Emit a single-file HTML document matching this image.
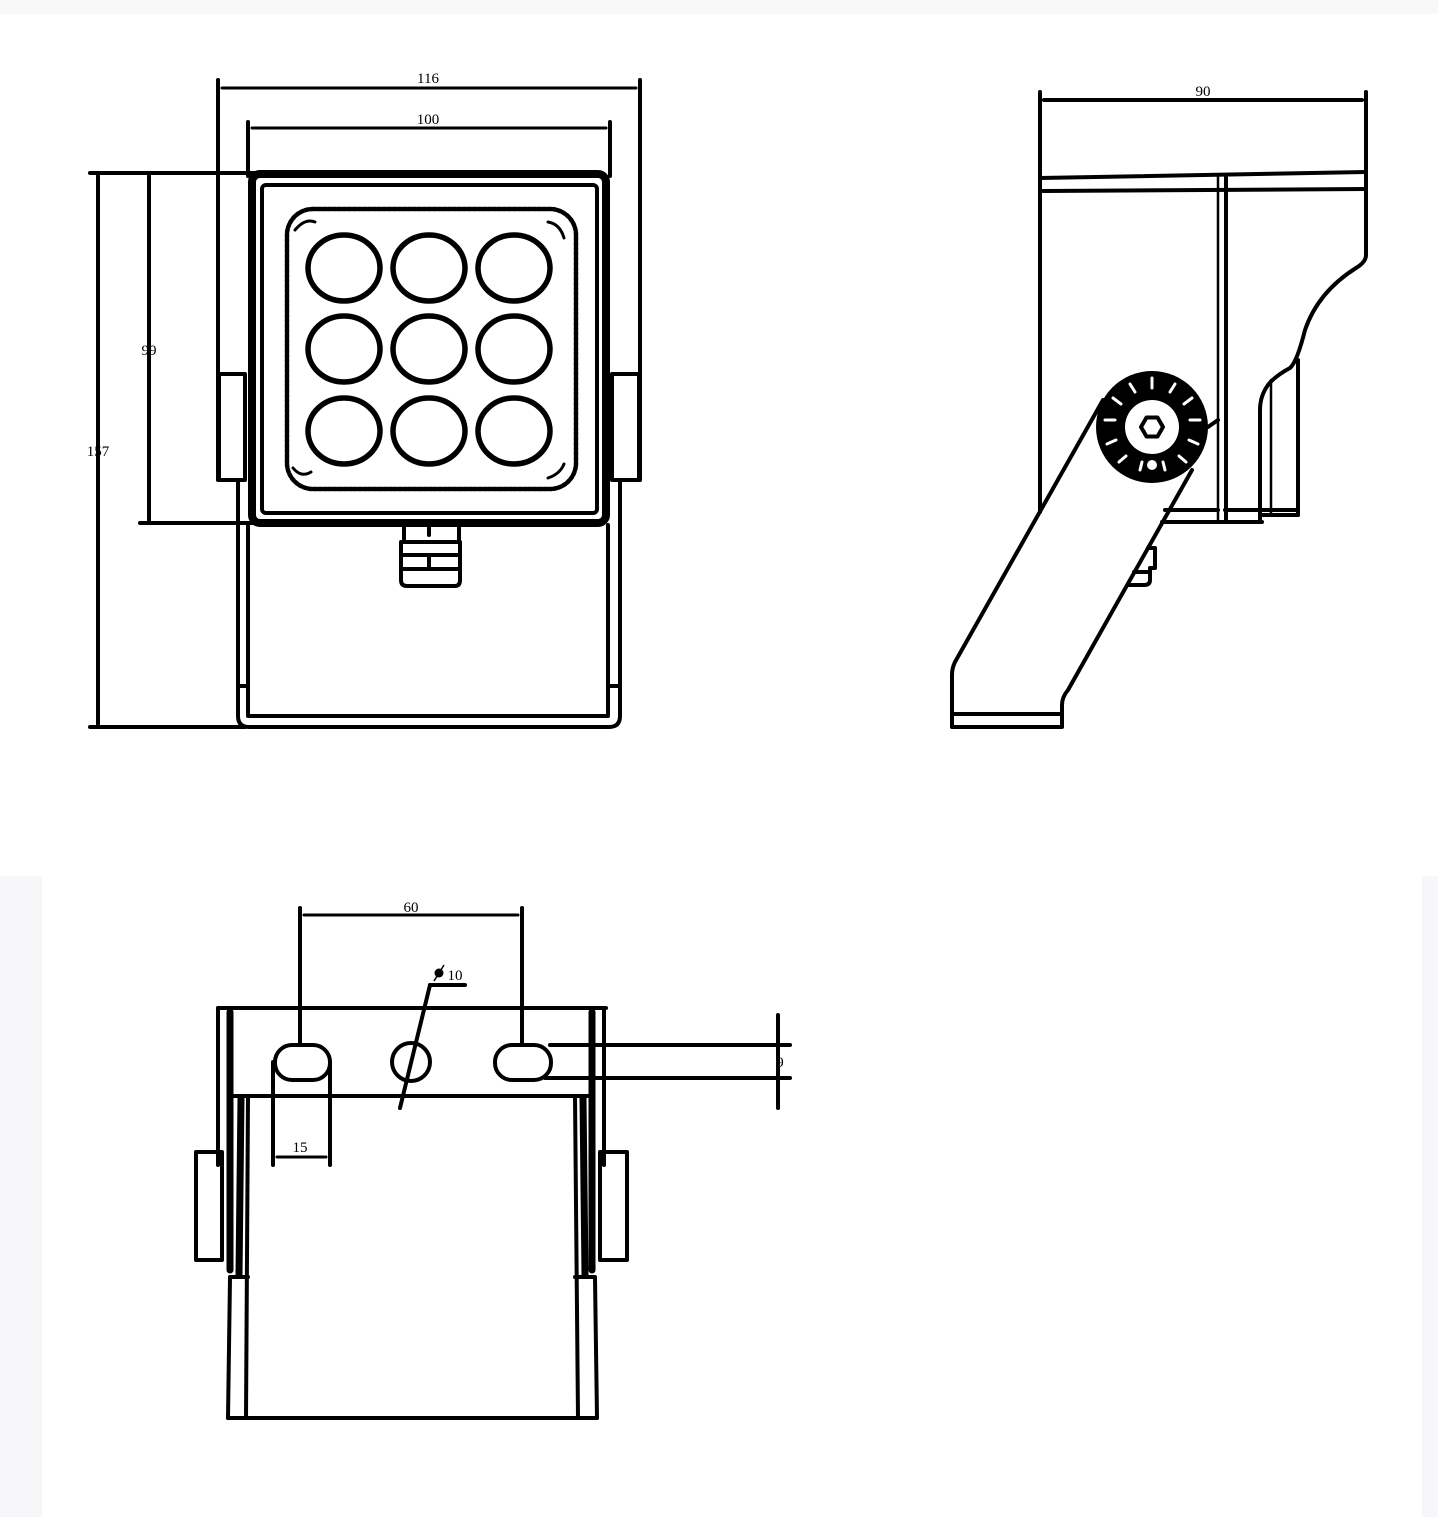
<!DOCTYPE html>
<html><head><meta charset="utf-8"><style>
html,body{margin:0;padding:0;background:#fff;}
svg{display:block;}
text{font-family:"Liberation Serif",serif;font-size:15px;fill:#000;}
</style></head><body>
<svg width="1438" height="1517" viewBox="0 0 1438 1517" xmlns="http://www.w3.org/2000/svg">
<rect x="0" y="0" width="1438" height="1517" fill="#fff"/>
<rect x="0" y="0" width="1438" height="14" fill="#f8f8f8"/>
<rect x="0" y="876" width="42" height="641" fill="#f7f7f9"/>
<rect x="1422" y="876" width="16" height="641" fill="#f7f7f9"/>

<g fill="none" stroke="#000" stroke-linecap="round" stroke-linejoin="round">
<g stroke-width="4">
<line x1="218" y1="80" x2="218" y2="480"/>
<line x1="640" y1="80" x2="640" y2="480"/>
<line x1="248" y1="122" x2="248" y2="176"/>
<line x1="610" y1="122" x2="610" y2="176"/>
<line x1="90" y1="173" x2="255" y2="173"/>
<line x1="90" y1="727" x2="245" y2="727"/>
<line x1="140" y1="523" x2="255" y2="523"/>
<line x1="98" y1="176" x2="98" y2="724"/>
<line x1="149" y1="176" x2="149" y2="520"/>
</g>
<g stroke-width="3">
<line x1="222" y1="88" x2="636" y2="88"/>
<line x1="252" y1="128" x2="606" y2="128"/>
</g>
<g stroke-width="4">
<rect x="219" y="374" width="26" height="106"/>
<rect x="612" y="374" width="27" height="106"/>
<path d="M238 480 V716 Q238 727 249 727 H609 Q620 727 620 716 V480"/>
<path d="M248 525 V716 H608 V525"/>
<line x1="238" y1="686" x2="248" y2="686"/>
<line x1="610" y1="686" x2="620" y2="686"/>
</g>
<rect x="252" y="174" width="354" height="349" rx="8" stroke-width="8"/>
<rect x="262" y="185" width="335" height="328" rx="4" stroke-width="4"/>
<rect x="287" y="209" width="289" height="280" rx="26" stroke-width="4.5" stroke-dasharray="3 2"/>
<g stroke-width="3">
<path d="M295 230 q10 -12 20 -8 M548 222 q12 2 16 16 M293 468 q8 10 18 4 M548 478 q12 -4 16 -14"/>
</g>
<g stroke-width="5.5">
<ellipse cx="344" cy="268" rx="36" ry="33"/>
<ellipse cx="429" cy="268" rx="36" ry="33"/>
<ellipse cx="514" cy="268" rx="36" ry="33"/>
<ellipse cx="344" cy="349" rx="36" ry="33"/>
<ellipse cx="429" cy="349" rx="36" ry="33"/>
<ellipse cx="514" cy="349" rx="36" ry="33"/>
<ellipse cx="344" cy="431" rx="36" ry="33"/>
<ellipse cx="429" cy="431" rx="36" ry="33"/>
<ellipse cx="514" cy="431" rx="36" ry="33"/>
</g>
<g stroke-width="4">
<path d="M404 526 V542 H459 V526"/>
<path d="M401 542 V580 Q401 586 407 586 H455 Q460 586 460 580 V542"/>
<line x1="401" y1="555" x2="460" y2="555"/>
<line x1="401" y1="569" x2="460" y2="569"/>
<line x1="429" y1="555" x2="429" y2="569"/>
<line x1="429" y1="526" x2="429" y2="535"/>
</g>

<!-- SIDE VIEW -->
<g stroke-width="4">
<line x1="1040" y1="92" x2="1040" y2="512"/>
<line x1="1366" y1="92" x2="1366" y2="176"/>
<line x1="1044" y1="100" x2="1362" y2="100"/>
<line x1="1040" y1="178" x2="1366" y2="172"/>
<line x1="1043" y1="191" x2="1366" y2="189"/>
<line x1="1226" y1="176" x2="1226" y2="522"/>
<path d="M1366 172 V255 Q1366 262 1356 268 Q1318 292 1305 330 Q1297 362 1290 368 Q1275 376 1268 385 Q1260 396 1260 410 V522"/>
<line x1="1298" y1="360" x2="1298" y2="515"/>
<line x1="1225" y1="510" x2="1298" y2="510"/>
<line x1="1165" y1="510" x2="1218" y2="510"/>
<line x1="1162" y1="522" x2="1262" y2="522"/>
<line x1="1262" y1="515" x2="1298" y2="515"/>
<path d="M1103 400 L955 662 Q952 668 952 675 V727 H1062 V705 Q1062 697 1068 690 L1192 470"/>
<line x1="954" y1="714" x2="1062" y2="714"/>
<path d="M1148 548 H1155 V568 H1150 V580 Q1150 585 1144 585 H1128"/>
<line x1="1134" y1="572" x2="1150" y2="572"/>
<line x1="1208" y1="427" x2="1218" y2="420"/>
</g>
<line x1="1218" y1="176" x2="1218" y2="520" stroke-width="2.5"/>
<line x1="1271" y1="380" x2="1271" y2="515" stroke-width="2.5"/>
<circle cx="1152" cy="427" r="56" fill="#000" stroke="none"/>
<g stroke="#fff" stroke-width="3">
<path d="M1152 378 v10 M1175 384 l-5 8 M1192 398 l-8 6 M1200 420 h-10 M1198 444 l-9 -4 M1186 462 l-7 -6 M1130 384 l5 8 M1113 398 l8 6 M1105 420 h10 M1107 444 l9 -4 M1119 462 l7 -6 M1140 470 l2 -8 M1165 470 l-2 -8"/>
</g>
<circle cx="1152" cy="427" r="27" fill="#fff" stroke="none"/>
<polygon points="1163,427 1157.5,436.5 1146.5,436.5 1141,427 1146.5,417.5 1157.5,417.5" stroke-width="4"/>
<circle cx="1152" cy="465" r="5" fill="#fff" stroke="none"/>

<!-- BOTTOM VIEW -->
<g stroke-width="4">
<line x1="300" y1="908" x2="300" y2="1045"/>
<line x1="522" y1="908" x2="522" y2="1045"/>
<line x1="430" y1="985" x2="465" y2="985"/>
<line x1="430" y1="985" x2="400" y2="1108"/>
<line x1="218" y1="1008" x2="606" y2="1008"/>
<line x1="233" y1="1096" x2="590" y2="1096"/>
<rect x="275" y="1045" width="55" height="35" rx="17"/>
<rect x="495" y="1045" width="56" height="35" rx="17"/>
<circle cx="411" cy="1062" r="19"/>
<line x1="273" y1="1062" x2="273" y2="1165"/>
<line x1="330" y1="1062" x2="330" y2="1165"/>
<line x1="550" y1="1045" x2="790" y2="1045"/>
<line x1="545" y1="1078" x2="790" y2="1078"/>
<line x1="778" y1="1015" x2="778" y2="1108"/>
<line x1="218" y1="1008" x2="218" y2="1165"/>
<line x1="604" y1="1008" x2="604" y2="1165"/>
<rect x="196" y="1152" width="26" height="108"/>
<rect x="600" y="1152" width="27" height="108"/>
<line x1="248" y1="1096" x2="246" y2="1418"/>
<line x1="575" y1="1096" x2="578" y2="1418"/>
<line x1="230" y1="1278" x2="228" y2="1418"/>
<line x1="595" y1="1278" x2="597" y2="1418"/>
<line x1="230" y1="1277" x2="248" y2="1277"/>
<line x1="575" y1="1277" x2="595" y2="1277"/>
<line x1="228" y1="1418" x2="597" y2="1418"/>
</g>
<g stroke-width="3">
<line x1="304" y1="915" x2="518" y2="915"/>
<line x1="277" y1="1157" x2="326" y2="1157"/>
</g>
<g stroke-width="7">
<line x1="230" y1="1012" x2="230" y2="1270"/>
<line x1="592" y1="1012" x2="592" y2="1270"/>
<line x1="241" y1="1098" x2="239" y2="1275"/>
<line x1="583" y1="1098" x2="585" y2="1275"/>
</g>
</g>
<circle cx="439" cy="973" r="4.5" fill="#000"/>
<line x1="434" y1="981" x2="444" y2="965" stroke="#000" stroke-width="1.5"/>

<text x="428" y="83" text-anchor="middle">116</text>
<text x="428" y="124" text-anchor="middle">100</text>
<text x="149" y="355" text-anchor="middle">99</text>
<text x="98" y="456" text-anchor="middle">157</text>
<text x="1203" y="96" text-anchor="middle">90</text>
<text x="411" y="912" text-anchor="middle">60</text>
<text x="455" y="980" text-anchor="middle">10</text>
<text x="300" y="1152" text-anchor="middle">15</text>
<text x="780" y="1067" text-anchor="middle">9</text>
</svg>
</body></html>
